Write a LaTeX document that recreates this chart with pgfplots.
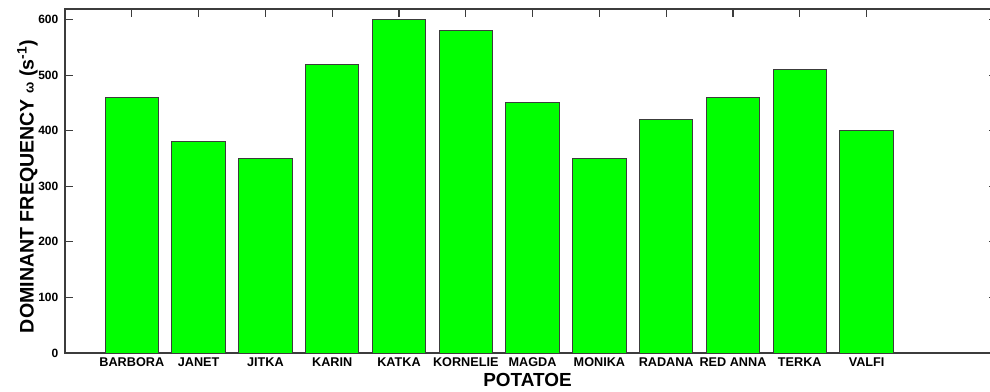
\documentclass[border=0pt]{standalone}
\usepackage{pgfplots}
\pgfplotsset{compat=1.18}
\usepackage{fontspec}
\setmainfont{Liberation Sans}
\definecolor{bargreen}{RGB}{0,255,0}
\definecolor{edgegray}{RGB}{60,60,60}
\begin{document}
\begin{tikzpicture}
\begin{axis}[
  scale only axis,
  width=698.9pt, height=258pt,
  xmin=0, xmax=13.95, ymin=0, ymax=619,
  xtick={1,2,3,4,5,6,7,8,9,10,11,12},
  xticklabels={BARBORA,JANET,JITKA,KARIN,KATKA,KORNELIE,MAGDA,MONIKA,RADANA,RED ANNA,TERKA,VALFI},
  ytick={0,100,200,300,400,500,600},
  tick align=inside,
  major tick length=6pt,
  every tick/.style={edgegray, line width=0.8pt},
  axis line style={edgegray, line width=0.9pt},
  /pgf/number format/assume math mode=true,
  ticklabel style={font=\fontsize{9}{10}\selectfont\bfseries},
  x tick label style={font=\fontsize{9.5}{10}\selectfont\bfseries},
  y tick label style={xshift=-1.5pt},
  xlabel={POTATOE},
  ylabel={DOMINANT FREQUENCY {\fontsize{10}{10}\selectfont ω} (s\textsuperscript{-1})},
  every axis x label/.style={at={(axis description cs:0.4963,-0.0575)}, anchor=north, inner sep=0pt, font=\fontsize{14.2}{16}\selectfont\bfseries},
  every axis y label/.style={at={(axis description cs:-0.0515,0.484)}, rotate=90, anchor=north, inner sep=0pt, font=\fontsize{14.7}{16}\selectfont\bfseries},
]
\addplot[ybar, bar width=0.8, fill=bargreen, draw=edgegray, line width=0.7pt] coordinates {
  (1,460) (2,380) (3,350) (4,520) (5,600) (6,580)
  (7,450) (8,350) (9,420) (10,460) (11,510) (12,400)
};
\end{axis}
\pgfresetboundingbox
\path[use as bounding box] ([shift={(-48.75pt,-29.25pt)}]current axis.south west) rectangle ([shift={(693.75pt,264.75pt)}]current axis.south west);
\end{tikzpicture}
\end{document}
